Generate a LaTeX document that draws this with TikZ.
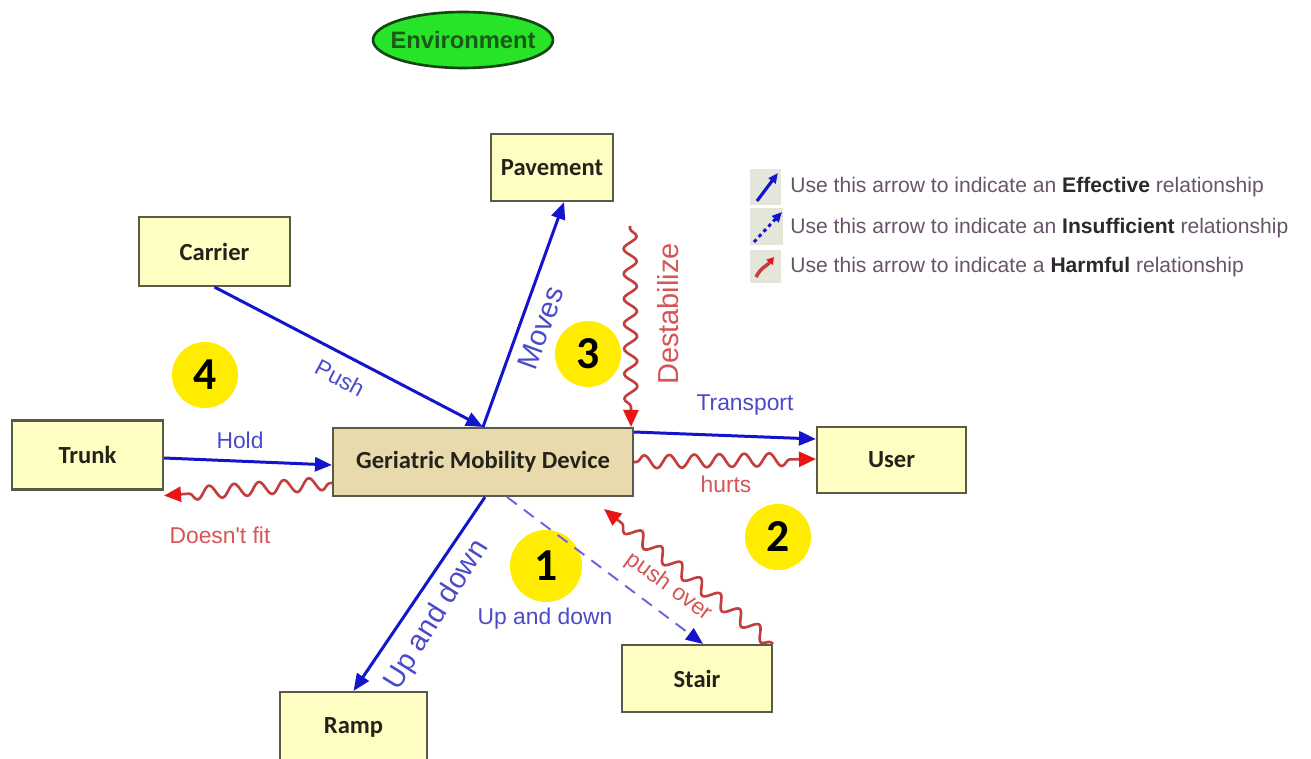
\documentclass[tikz,border=0pt]{standalone}
\usepackage{fontspec}
\setmainfont{Liberation Sans}
\newfontfamily\boxfont{Carlito}
\usetikzlibrary{arrows.meta,decorations.pathmorphing,shapes.geometric,calc}

\definecolor{boxfill}{RGB}{255,255,195}
\definecolor{devfill}{RGB}{232,218,172}
\definecolor{boxline}{RGB}{90,90,72}
\definecolor{boxtext}{RGB}{35,35,25}
\definecolor{effblue}{RGB}{20,20,205}
\definecolor{labblue}{RGB}{75,75,200}
\definecolor{harmline}{RGB}{195,62,62}
\definecolor{harmtip}{RGB}{235,20,20}
\definecolor{labred}{RGB}{215,85,85}
\definecolor{legtext}{RGB}{105,85,105}
\definecolor{legbold}{RGB}{45,40,45}
\definecolor{numyellow}{RGB}{255,236,0}
\definecolor{envgreen}{RGB}{40,228,40}
\definecolor{envline}{RGB}{20,70,20}
\definecolor{envtext}{RGB}{25,90,25}
\definecolor{iconbg}{RGB}{228,230,218}

\begin{document}
\begin{tikzpicture}[x=0.02cm,y=-0.02cm,
  entity/.style={draw=boxline, line width=1.2pt, fill=boxfill, text=boxtext,
    font=\boxfont\bfseries\fontsize{14}{16}\selectfont, inner sep=0pt},
  eff/.style={draw=effblue, line width=1.7pt,
    -{Triangle[length=0.34cm,width=0.28cm]}},
  ins/.style={draw=effblue!65!white, line width=1.1pt, dash pattern=on 7pt off 5pt,
    -{Triangle[length=0.34cm,width=0.28cm,color=effblue]}},
  harm/.style={draw=harmline, line width=1.5pt, decorate,
    decoration={snake, segment length=0.5cm, amplitude=0.13cm,
      pre length=0.05cm, post length=0.3cm},
    -{Triangle[length=0.34cm,width=0.3cm,color=harmtip]}},
  blab/.style={text=labblue, font=\fontsize{13}{15}\selectfont, inner sep=0pt},
  rlab/.style={text=labred, font=\fontsize{13}{15}\selectfont, inner sep=0pt},
  biglab/.style={font=\fontsize{16.5}{18}\selectfont},
  zone/.style={circle, fill=numyellow, minimum size=1.32cm, inner sep=0pt,
    text=black, font=\boxfont\bfseries\fontsize{26}{28}\selectfont},
  legend/.style={anchor=west, text=legtext, font=\fontsize{12}{14}\selectfont, inner sep=0pt}
]
\useasboundingbox (0,0) rectangle (1311,759);
\fill[white] (0,0) rectangle (1311,759);

% system boundary label
\path[draw=envline, line width=1.5pt, fill=envgreen]
  (463,40) ellipse [x radius=1.8cm, y radius=0.56cm];
\node[text=envtext, inner sep=0pt,
  font=\bfseries\fontsize{13.5}{15}\selectfont] (env) at (463,40) {Environment};

% zone markers
\node[zone] (z4) at (205,375) {4};
\node[zone] (z3) at (588,354) {3};
\node[zone] (z2) at (778,537) {2};
\node[zone, minimum size=1.44cm] (z1) at (546,566) {1};

% components
\node[entity, minimum width=2.44cm, minimum height=1.34cm] (pavement) at (552,167.5) {Pavement};
\node[entity, minimum width=3.02cm, minimum height=1.38cm] (carrier) at (214.5,251.5) {Carrier};
\node[entity, minimum width=3.02cm, minimum height=1.38cm] (trunk) at (87.5,455) {Trunk};
\node[entity, fill=devfill, minimum width=6.0cm, minimum height=1.36cm] (gmd) at (483,462) {Geriatric Mobility Device};
\node[entity, minimum width=2.98cm, minimum height=1.32cm] (user) at (891.5,460) {User};
\node[entity, minimum width=3.0cm, minimum height=1.34cm] (stair) at (697,678.5) {Stair};
\node[entity, minimum width=2.94cm, minimum height=1.42cm] (ramp) at (353.5,727.5) {Ramp};

% effective relations
\draw[eff] (carrier.south) -- (gmd.north);
\draw[eff] (gmd.north) -- ($(pavement.south)+(12,0)$);
\draw[eff] ($(gmd.east)+(0,-30)$) -- ($(user.west)+(0,-21)$);
\draw[eff] ($(trunk.east)+(0,3)$) -- ($(gmd.west)+(0,3)$);
\draw[eff] ($(gmd.south)+(2,0)$) -- (ramp.north);

% insufficient relation
\draw[ins] ($(gmd.south)+(24,0)$) -- ($(stair.north)+(6,0)$);

% harmful relations
\coordinate (dsrc) at (630,226);
\draw[harm] (dsrc) -- ($(gmd.north east)+(-3,0)$);
\draw[harm] (gmd.east) -- ($(user.west)+(0,-1)$);
\draw[harm] ($(gmd.west)+(0,21)$) -- ($(trunk.south east)+(0,5)$);
\draw[harm] (stair.north east) -- ($(gmd.south east)+(-30,12)$);

% relation labels
\node[blab, rotate=-28] (lpush) at (340,378) {Push};
\node[blab, biglab, rotate=70] (lmoves) at (541,328) {Moves};
\node[rlab, biglab, rotate=90] (ldest) at (668,314) {Destabilize};
\node[blab] (ltrans) at (745,405) {Transport};
\node[rlab] (lhurts) at (726,484) {hurts};
\node[blab] (lhold) at (240,440) {Hold};
\node[rlab] (lfit) at (220,535) {Doesn\textquotesingle t fit};
\node[blab, biglab, rotate=58] (lramp) at (437,615) {Up and down};
\node[blab] (lstair) at (545,619) {Up and down};
\node[rlab, rotate=-36] (lpush2) at (669,587) {push over};

% legend
\fill[iconbg] (750,169) rectangle (781,205);
\fill[iconbg] (750,208) rectangle (783,245);
\fill[iconbg] (750,250) rectangle (781,283);
\draw[draw=effblue, line width=1.8pt, -{Triangle[length=0.2cm,width=0.17cm]}]
  (757,201) -- (778,173);
\draw[draw=effblue, line width=1.7pt, dash pattern=on 2pt off 2pt,
  -{Triangle[length=0.2cm,width=0.18cm,color=effblue]}]
  (754,242) -- (782,212);
\draw[draw=harmline, line width=2pt, -{Triangle[length=0.14cm,width=0.16cm,color=harmtip]}]
  (756,277) .. controls (762,266) and (765,268) .. (774,257);
\node[legend] (leg1) at (790,187) {Use this arrow to indicate an \textcolor{legbold}{\bfseries Effective} relationship};
\node[legend] (leg2) at (790,228) {Use this arrow to indicate an \textcolor{legbold}{\bfseries Insufficient} relationship};
\node[legend] (leg3) at (790,267) {Use this arrow to indicate a \textcolor{legbold}{\bfseries Harmful} relationship};
\end{tikzpicture}
\end{document}
